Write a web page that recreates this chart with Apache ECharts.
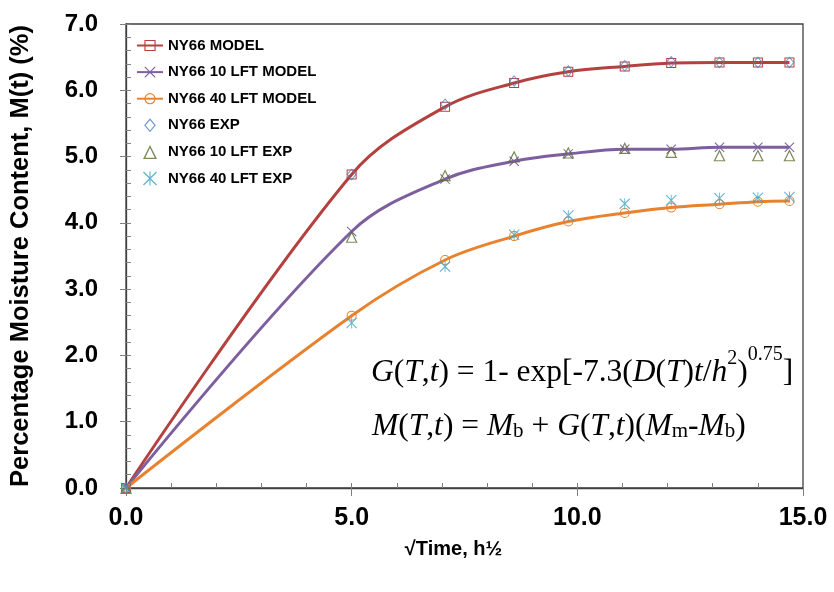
<!DOCTYPE html>
<html>
<head>
<meta charset="utf-8">
<script src="https://cdn.jsdelivr.net/npm/echarts@6/dist/echarts.min.js"></script>
<style>html,body{margin:0;padding:0;background:#fff;}#c{width:834px;height:592px;}</style>
</head>
<body>
<div id="c"></div>
<script>
// ---- data ----
var sqrtTime = [0, 5.0, 7.07, 8.6, 9.8, 11.05, 12.08, 13.15, 14.0, 14.7];
var ny66Model     = [0, 4.73, 5.75, 6.11, 6.28, 6.36, 6.41, 6.42, 6.42, 6.42];
var ny66_10Model  = [0, 3.87, 4.66, 4.93, 5.04, 5.11, 5.11, 5.14, 5.14, 5.14];
var ny66_40Model  = [0, 2.60, 3.44, 3.80, 4.02, 4.15, 4.23, 4.28, 4.32, 4.33];
var ny66Exp       = [0, 4.73, 5.79, 6.14, 6.29, 6.37, 6.43, 6.42, 6.42, 6.42];
var ny66_10Exp    = [0, 3.79, 4.72, 5.00, 5.06, 5.13, 5.07, 5.02, 5.02, 5.02];
var ny66_40Exp    = [0, 2.49, 3.34, 3.82, 4.11, 4.29, 4.34, 4.37, 4.38, 4.39];
var seriesNames = ['NY66 MODEL', 'NY66 10 LFT MODEL', 'NY66 40 LFT MODEL', 'NY66 EXP', 'NY66 10 LFT EXP', 'NY66 40 LFT EXP'];
var xTicks = [0, 5, 10, 15];
var yTicks = [0, 1, 2, 3, 4, 5, 6, 7];

function pairs(ys) { return sqrtTime.map(function (x, i) { return [x, ys[i]]; }); }

var SYM = {
  square: 'path://M0,0H10V10H0Z M1,1V9H9V1Z',
  circle: 'path://M5,0A5,5 0 1,1 4.99,0Z M5,1A4,4 0 1,0 5.01,1Z',
  diamond: 'path://M5,0L10,6L5,12L0,6Z M5,1.6L1.3,6L5,10.4L8.7,6Z',
  triangle: 'path://M5,0L10,10L0,10Z M5,2.3L1.6,9.1L8.4,9.1Z',
  cross: 'path://M0,0.7L0.7,0L5,4.3L9.3,0L10,0.7L5.7,5L10,9.3L9.3,10L5,5.7L0.7,10L0,9.3L4.3,5Z',
  star: 'path://M0,0.7L0.7,0L5,4.3L9.3,0L10,0.7L5.7,5L10,9.3L9.3,10L5,5.7L0.7,10L0,9.3L4.3,5Z M4.6,0H5.4V10H4.6Z'
};

var cRed = '#B4413E', cPurple = '#7D5FA0', cOrange = '#E8822F';
var cBlue = '#4F7FC0', cGreen = '#5A6E2E', cTeal = '#3FA3C0';

function modelSeries(name, ys, color, sym) {
  return {
    name: name, type: 'line', data: pairs(ys), smooth: 0.35,
    symbol: sym, symbolSize: 10, symbolKeepAspect: true, showSymbol: true,
    lineStyle: { width: 3, color: color }, itemStyle: { color: color }, z: 2
  };
}
function expSeries(name, ys, color, sym, size) {
  return {
    name: name, type: 'scatter', data: pairs(ys),
    symbol: sym, symbolSize: size, symbolKeepAspect: true,
    itemStyle: { color: color }, z: 3
  };
}

var serif = "'Liberation Serif','Times New Roman',serif";
var richStyles = {
  i: { fontFamily: serif, fontStyle: 'italic', fontSize: 31.5, lineHeight: 36, verticalAlign: 'bottom', fill: '#000' },
  n: { fontFamily: serif, fontSize: 31.5, lineHeight: 36, verticalAlign: 'bottom', fill: '#000' },
  sup: { fontFamily: serif, fontSize: 20, lineHeight: 20, verticalAlign: 'bottom', padding: [0, 0, 24, 0], fill: '#000' },
  sup2: { fontFamily: serif, fontSize: 20, lineHeight: 20, verticalAlign: 'bottom', padding: [0, 0, 20, 0], fill: '#000' },
  sub: { fontFamily: serif, fontSize: 21, lineHeight: 21, verticalAlign: 'bottom', padding: [0, 0, 1, 0], fill: '#000' }
};

var chart = echarts.init(document.getElementById('c'));
chart.setOption({
  animation: false,
  backgroundColor: '#fff',
  grid: { left: 126, right: 31, top: 24, bottom: 104, show: true, borderColor: '#404040', borderWidth: 1.3, containLabel: false },
  legend: {
    orient: 'vertical', left: 131, top: 33, itemWidth: 26, itemHeight: 14, itemGap: 11.6,
    data: seriesNames,
    textStyle: { fontFamily: "'Liberation Sans',Arial,sans-serif", fontWeight: 'bold', fontSize: 15, color: '#000' }
  },
  xAxis: [
    {
      type: 'value', min: 0, max: 15, interval: 5, position: 'bottom',
      axisLine: { show: true, lineStyle: { color: '#404040', width: 1.3 } },
      axisTick: { show: true, inside: false, length: 8, lineStyle: { color: '#808080' } },
      axisLabel: {
        margin: 18, color: '#000', fontFamily: "'Liberation Sans',Arial,sans-serif", fontWeight: 'bold', fontSize: 25,
        formatter: function (v) { return xTicks.indexOf(v) >= 0 ? v.toFixed(1) : ''; }
      },
      splitLine: { show: false },
      name: '\u221ATime, h\u00BD', nameLocation: 'middle', nameGap: 51,
      nameTextStyle: { fontFamily: "'Liberation Sans',Arial,sans-serif", fontWeight: 'bold', fontSize: 20, color: '#000', padding: [0, 22, 0, 0] }
    },
    {
      type: 'value', min: 0, max: 15, interval: 1, position: 'bottom',
      axisLine: { show: false }, axisTick: { show: true, inside: true, length: 5, lineStyle: { color: '#808080' } },
      axisLabel: { show: false }, splitLine: { show: false }
    }
  ],
  yAxis: [
    {
      type: 'value', min: 0, max: 7, interval: 1, position: 'left',
      axisLine: { show: true, lineStyle: { color: '#404040', width: 1.3 } },
      axisTick: { show: true, inside: false, length: 6, lineStyle: { color: '#808080' } },
      axisLabel: {
        margin: 28, color: '#000', fontFamily: "'Liberation Sans',Arial,sans-serif", fontWeight: 'bold', fontSize: 24,
        formatter: function (v) { return yTicks.indexOf(v) >= 0 ? v.toFixed(1) : ''; }
      },
      splitLine: { show: false },
      name: 'Percentage Moisture Content, M(t) (%)', nameLocation: 'middle', nameGap: 92,
      nameTextStyle: { fontFamily: "'Liberation Sans',Arial,sans-serif", fontWeight: 'bold', fontSize: 25.5, color: '#000' }
    },
    {
      type: 'value', min: 0, max: 7, interval: 0.2, position: 'left',
      axisLine: { show: false }, axisTick: { show: true, inside: true, length: 5, lineStyle: { color: '#808080' } },
      axisLabel: { show: false }, splitLine: { show: false }
    }
  ],
  graphic: [
    {
      type: 'text', x: 371, y: 353, silent: true,
      style: {
        text: '{i|G}{n|(}{i|T}{n|,}{i|t}{n|) = 1- exp[-7.3(}{i|D}{n|(}{i|T}{n|)}{i|t}{n|/}{i|h}{sup2|2}{n|)}{sup|0.75}{n|]}',
        rich: richStyles, align: 'left', verticalAlign: 'top', fill: '#000'
      }
    },
    {
      type: 'text', x: 372, y: 407, silent: true,
      style: {
        text: '{i|M}{n|(}{i|T}{n|,}{i|t}{n|) = }{i|M}{sub|b}{n| + }{i|G}{n|(}{i|T}{n|,}{i|t}{n|)(}{i|M}{sub|m}{n|-}{i|M}{sub|b}{n|)}',
        rich: richStyles, align: 'left', verticalAlign: 'top', fill: '#000'
      }
    }
  ],
  series: [
    modelSeries(seriesNames[0], ny66Model, cRed, SYM.square),
    modelSeries(seriesNames[1], ny66_10Model, cPurple, SYM.cross),
    modelSeries(seriesNames[2], ny66_40Model, cOrange, SYM.circle),
    expSeries(seriesNames[3], ny66Exp, cBlue, SYM.diamond, 12),
    expSeries(seriesNames[4], ny66_10Exp, cGreen, SYM.triangle, 12),
    expSeries(seriesNames[5], ny66_40Exp, cTeal, SYM.star, 11)
  ]
});
</script>
</body>
</html>
